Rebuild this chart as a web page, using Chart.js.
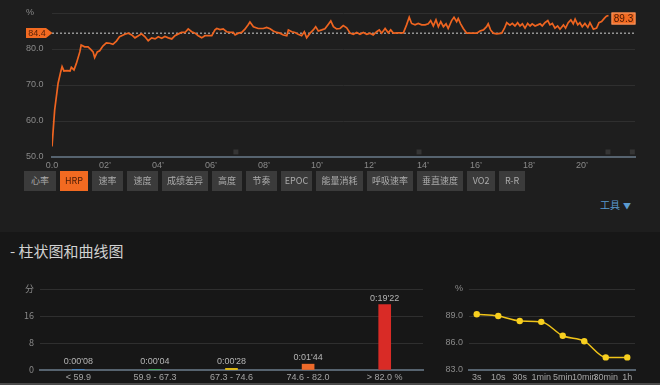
<!DOCTYPE html>
<html>
<head>
<meta charset="utf-8">
<script src="https://cdn.jsdelivr.net/npm/chart.js@4.4.1/dist/chart.umd.min.js"></script>
<style>
  body { margin: 0; width: 660px; height: 385px; background: #171717; overflow: hidden; position: relative;
         font-family: "Liberation Sans", "Noto Sans CJK SC", sans-serif; }
  #topPanel { position: absolute; left: 0; top: 0; width: 660px; height: 232px; background: #1e1e1e; }
  canvas { position: absolute; }
  #hrpChart { left: 0; top: 0; }
  #zoneChart { left: 0; top: 275px; }
  #windowChart { left: 440px; top: 275px; }
  .btn { position: absolute; top: 171px; height: 20px; line-height: 20px; background: #3b3b3b; color: #ababab;
         font-size: 9px; text-align: center; font-family: "Noto Sans CJK SC", "Liberation Sans", sans-serif; }
  .btn.active { background: #f26a21; color: #4a1a05; }
  #tools { position: absolute; left: 600px; top: 197px; font-size: 10px; color: #5b9bd0;
           font-family: "Noto Sans CJK SC", sans-serif; }
  #tools span { font-size: 8px; margin-left: 3px; }
  #heading { position: absolute; left: 10px; top: 240px; font-size: 15px; color: #d2d2d2;
             font-family: "Noto Sans CJK SC", sans-serif; }
  #bottomLine { position: absolute; left: 0; top: 383px; width: 660px; height: 2px; background: #4a4a4a; }
</style>
</head>
<body>
<div id="topPanel"></div>
<canvas id="hrpChart" width="660" height="175"></canvas>

<div class="btn" style="left:24px;width:32px">心率</div>
<div class="btn active" style="left:60px;width:28px">HRP</div>
<div class="btn" style="left:92px;width:31px">速率</div>
<div class="btn" style="left:127px;width:31px">速度</div>
<div class="btn" style="left:162px;width:46px">成绩差异</div>
<div class="btn" style="left:212px;width:30px">高度</div>
<div class="btn" style="left:246px;width:31px">节奏</div>
<div class="btn" style="left:281px;width:31px">EPOC</div>
<div class="btn" style="left:316px;width:47px">能量消耗</div>
<div class="btn" style="left:367px;width:46px">呼吸速率</div>
<div class="btn" style="left:417px;width:46px">垂直速度</div>
<div class="btn" style="left:467px;width:28px">VO2</div>
<div class="btn" style="left:499px;width:26px">R-R</div>
<div id="tools">工具<span>▼</span></div>

<div id="heading">- 柱状图和曲线图</div>
<canvas id="zoneChart" width="440" height="108"></canvas>
<canvas id="windowChart" width="220" height="108"></canvas>
<div id="bottomLine"></div>

<script>
// HRP curve (minutes, %)
const hrpTime = [0, 0.1, 0.23, 0.33, 0.38, 0.45, 0.57, 0.68, 0.73, 0.83, 0.92, 1.05, 1.1, 1.23, 1.36, 1.46, 1.55, 1.61, 1.71, 1.8,
  1.92, 2.05, 2.18, 2.3, 2.43, 2.55, 2.75, 2.88, 3.01, 3.13, 3.26, 3.38, 3.51, 3.63, 3.76, 3.89, 4.01, 4.14, 4.26, 4.39,
  4.52, 4.64, 4.77, 4.89, 5.02, 5.14, 5.27, 5.4, 5.52, 5.65, 5.77, 5.9, 6.03, 6.15, 6.22, 6.34, 6.46, 6.59, 6.72, 6.84,
  6.91, 7.03, 7.16, 7.28, 7.41, 7.47, 7.6, 7.78, 7.97, 8.1, 8.23, 8.35, 8.48, 8.6, 8.73, 8.86, 8.92, 9.05, 9.17, 9.29,
  9.42, 9.52, 9.61, 9.74, 9.86, 9.95, 10.05, 10.18, 10.3, 10.43, 10.52, 10.62, 10.74, 10.87, 10.99, 11.12, 11.25, 11.37, 11.5, 11.62,
  11.75, 11.88, 12.0, 12.12, 12.25, 12.35, 12.44, 12.57, 12.69, 12.78, 12.88, 13.07, 13.26, 13.38, 13.48, 13.57, 13.7, 13.82, 13.95, 14.08,
  14.2, 14.29, 14.39, 14.49, 14.58, 14.67, 14.77, 14.87, 14.95, 15.08, 15.17, 15.27, 15.33, 15.42, 15.52, 15.65, 15.84, 16.03, 16.15, 16.28,
  16.4, 16.46, 16.55, 16.65, 16.78, 16.97, 17.07, 17.16, 17.28, 17.37, 17.47, 17.57, 17.66, 17.75, 17.85, 17.95, 18.04, 18.12, 18.23, 18.33,
  18.42, 18.5, 18.6, 18.71, 18.79, 18.88, 18.98, 19.08, 19.17, 19.3, 19.38, 19.48, 19.58, 19.67, 19.74, 19.84, 19.92, 20.01, 20.11, 20.22,
  20.3, 20.43, 20.55, 20.64, 20.74, 20.84, 20.92, 21.0];
const hrpValue = [52.9, 63.0, 70.5, 73.7, 75.1, 73.9, 74.0, 73.9, 74.9, 74.2, 76.0, 79.2, 81.1, 80.6, 80.6, 79.9, 79.2, 77.6, 79.2, 79.5,
  80.8, 81.7, 81.6, 81.3, 82.2, 83.4, 84.1, 84.4, 83.9, 83.1, 83.7, 84.2, 83.4, 82.3, 83.1, 82.8, 83.4, 83.0, 83.5, 83.1,
  82.8, 83.7, 84.2, 84.6, 84.6, 85.6, 84.8, 84.4, 83.7, 83.1, 83.7, 83.7, 83.7, 85.3, 85.7, 85.4, 85.6, 84.8, 84.6, 84.6,
  83.9, 84.4, 84.6, 85.5, 86.8, 87.5, 86.2, 85.7, 85.7, 86.0, 85.6, 85.0, 84.6, 84.4, 83.9, 83.7, 85.3, 84.8, 84.6, 84.1,
  83.7, 84.8, 83.1, 84.4, 85.3, 86.2, 85.0, 85.3, 85.6, 86.9, 87.8, 86.2, 85.6, 85.7, 86.5, 85.9, 84.4, 84.1, 84.6, 84.1,
  84.6, 84.1, 84.4, 83.9, 84.8, 85.3, 84.4, 85.7, 84.5, 85.3, 84.4, 84.5, 84.5, 86.7, 88.8, 87.1, 86.7, 87.1, 86.7, 86.7,
  87.0, 87.9, 86.4, 88.1, 86.2, 87.6, 86.2, 87.0, 85.7, 87.9, 88.8, 87.6, 88.5, 87.0, 85.7, 84.4, 84.4, 84.4, 85.0, 85.3,
  86.2, 87.0, 85.3, 84.4, 84.2, 84.4, 85.7, 87.3, 86.6, 87.1, 86.4, 87.3, 86.4, 87.0, 85.8, 87.1, 86.4, 87.0, 86.4, 86.7,
  87.0, 86.4, 87.3, 87.9, 86.7, 87.1, 85.8, 86.4, 85.5, 86.7, 85.8, 87.3, 88.1, 87.0, 88.3, 86.7, 87.3, 86.2, 87.1, 86.0,
  87.3, 85.5, 85.8, 87.3, 87.6, 88.5, 89.1, 89.3];
const avgHrp = 84.4;
const lapTimes = [6.94, 13.85, 20.98, 21.9];

// time in zones
const zoneLabels = ['< 59.9', '59.9 - 67.3', '67.3 - 74.6', '74.6 - 82.0', '> 82.0 %'];
const zoneSeconds = [8, 4, 28, 104, 1162];
const zoneColors = ['#4a8fd6', '#3fae5a', '#f2c811', '#ee6a2a', '#d92b26'];

// best HRP over time windows
const windowLabels = ['3s', '10s', '30s', '1min', '5min', '10min', '30min', '1h'];
const windowValues = [89.2, 89.0, 88.45, 88.35, 86.8, 86.2, 84.4, 84.4];

const tickFont = { family: 'Liberation Sans', size: 9 };
const gridColor = '#2f2f2f';
const axisColor = '#56636f';

function fmtZone(sec) {
  const m = Math.floor(sec / 60), s = sec % 60;
  return '0:' + String(m).padStart(2, '0') + '\'' + String(s).padStart(2, '0');
}

const hrpLabels = {
  id: 'hrpLabels',
  afterDatasetsDraw(chart) {
    const { ctx, chartArea, scales: { x, y } } = chart;
    ctx.save();
    // average tag on the left
    const ay = Math.round(y.getPixelForValue(avgHrp));
    const l = chartArea.left;
    ctx.fillStyle = '#f26a21';
    ctx.beginPath();
    ctx.moveTo(l - 26, ay - 5);
    ctx.lineTo(l - 6, ay - 5);
    ctx.lineTo(l + 0.5, ay);
    ctx.lineTo(l - 6, ay + 5);
    ctx.lineTo(l - 26, ay + 5);
    ctx.closePath();
    ctx.fill();
    ctx.fillStyle = '#5a2208';
    ctx.font = '9px "Liberation Sans"';
    ctx.textAlign = 'center';
    ctx.textBaseline = 'middle';
    ctx.fillText(avgHrp.toFixed(1), l - 15, ay + 0.5);

    // last value tag
    const n = hrpTime.length - 1;
    const lx = x.getPixelForValue(hrpTime[n]);
    const ly = y.getPixelForValue(hrpValue[n]);
    ctx.fillStyle = '#f26a21';
    ctx.fillRect(lx + 3, ly - 3, 24, 12);
    ctx.strokeStyle = '#f59a66';
    ctx.lineWidth = 1;
    ctx.strokeRect(lx + 3.5, ly - 2.5, 23, 11);
    ctx.fillStyle = '#4a1a05';
    ctx.font = '10px "Liberation Sans"';
    ctx.fillText(hrpValue[n].toFixed(1), lx + 15, ly + 3.5);
    ctx.restore();
  }
};

new Chart(document.getElementById('hrpChart'), {
  type: 'line',
  data: {
    datasets: [
      {
        data: hrpTime.map((t, i) => ({ x: t, y: hrpValue[i] })),
        borderColor: '#ee6420',
        borderWidth: 1.7,
        pointRadius: 0,
        tension: 0
      },
      {
        data: [{ x: 0, y: avgHrp }, { x: 22, y: avgHrp }],
        borderColor: '#cfcfcf',
        borderWidth: 1,
        borderDash: [2, 2],
        pointRadius: 0
      },
      {
        type: 'scatter',
        data: lapTimes.map(t => ({ x: t, y: 51.4 })),
        pointStyle: 'rect',
        pointRadius: 3.5,
        backgroundColor: '#353535',
        borderWidth: 0
      }
    ]
  },
  options: {
    responsive: false,
    animation: false,
    layout: { padding: { left: 26, top: 13, right: 25, bottom: 0 } },
    plugins: { legend: { display: false }, tooltip: { enabled: false } },
    scales: {
      x: {
        type: 'linear', min: 0, max: 22,
        grid: { display: false, drawTicks: false },
        border: { color: axisColor, width: 2 },
        ticks: {
          stepSize: 2, color: '#8a8a8a', font: tickFont, padding: 3, maxRotation: 0, autoSkip: false,
          callback: v => v === 0 ? '0.0' : (v > 20 ? '' : String(v).padStart(2, '0') + '’')
        },
        afterFit(s) { s.height = 18; }
      },
      y: {
        min: 50, max: 90,
        grid: { color: gridColor, drawTicks: false },
        border: { display: false },
        ticks: {
          stepSize: 10, crossAlign: 'far', color: '#8a8a8a', font: tickFont,
          callback: v => v === 90 ? '%' : v.toFixed(1)
        },
        afterFit(s) { s.width = 26; }
      }
    }
  },
  plugins: [hrpLabels]
});

const zoneValueLabels = {
  id: 'zoneValueLabels',
  afterDatasetsDraw(chart) {
    const { ctx } = chart;
    const meta = chart.getDatasetMeta(0);
    ctx.save();
    ctx.fillStyle = '#b5b5b5';
    ctx.font = '9px "Liberation Sans"';
    ctx.textAlign = 'center';
    ctx.textBaseline = 'bottom';
    meta.data.forEach((bar, i) => {
      ctx.fillText(fmtZone(zoneSeconds[i]), bar.x, Math.min(bar.y, bar.base - 1) - 2);
    });
    ctx.restore();
  }
};

new Chart(document.getElementById('zoneChart'), {
  type: 'bar',
  data: {
    labels: zoneLabels,
    datasets: [{
      data: zoneSeconds.map(s => s / 60),
      backgroundColor: zoneColors,
      barThickness: 12,
      borderWidth: 0
    }]
  },
  options: {
    responsive: false,
    animation: false,
    layout: { padding: { left: 0, top: 14, right: 17, bottom: 0 } },
    plugins: { legend: { display: false }, tooltip: { enabled: false } },
    scales: {
      x: {
        grid: { display: false, drawTicks: false },
        border: { color: axisColor, width: 2 },
        ticks: { color: '#a5a5a5', font: tickFont, padding: 2, maxRotation: 0, autoSkip: false },
        afterFit(s) { s.height = 13; }
      },
      y: {
        min: 0, max: 24,
        grid: { color: gridColor, drawTicks: false },
        border: { display: false },
        ticks: {
          stepSize: 8, color: '#8a8a8a', font: { family: 'Noto Sans CJK SC', size: 9 }, padding: 6,
          callback: v => v === 24 ? '分' : v
        },
        afterFit(s) { s.width = 40; }
      }
    }
  },
  plugins: [zoneValueLabels]
});

new Chart(document.getElementById('windowChart'), {
  type: 'line',
  data: {
    datasets: [{
      data: windowValues.map((v, i) => ({ x: i, y: v })),
      borderColor: '#f0c419',
      borderWidth: 1.5,
      pointRadius: 3.2,
      pointBackgroundColor: '#f7cf1f',
      pointBorderWidth: 0,
      cubicInterpolationMode: 'monotone'
    }]
  },
  options: {
    responsive: false,
    animation: false,
    layout: { padding: { left: 0, top: 14, right: 25, bottom: 0 } },
    plugins: { legend: { display: false }, tooltip: { enabled: false } },
    scales: {
      x: {
        type: 'linear', min: -0.36, max: 7.36,
        grid: { display: false, drawTicks: false },
        border: { color: axisColor, width: 2 },
        afterBuildTicks(s) { s.ticks = windowLabels.map((_, i) => ({ value: i })); },
        ticks: {
          color: '#a5a5a5', font: tickFont, padding: 2, maxRotation: 0, autoSkip: false,
          callback: v => windowLabels[v]
        },
        afterFit(s) { s.height = 13; }
      },
      y: {
        min: 83, max: 92,
        grid: { color: gridColor, drawTicks: false },
        border: { display: false },
        ticks: {
          stepSize: 3, color: '#8a8a8a', font: tickFont, padding: 6,
          callback: v => v === 92 ? '%' : v.toFixed(1)
        },
        afterFit(s) { s.width = 29; }
      }
    }
  }
});
</script>
</body>
</html>
